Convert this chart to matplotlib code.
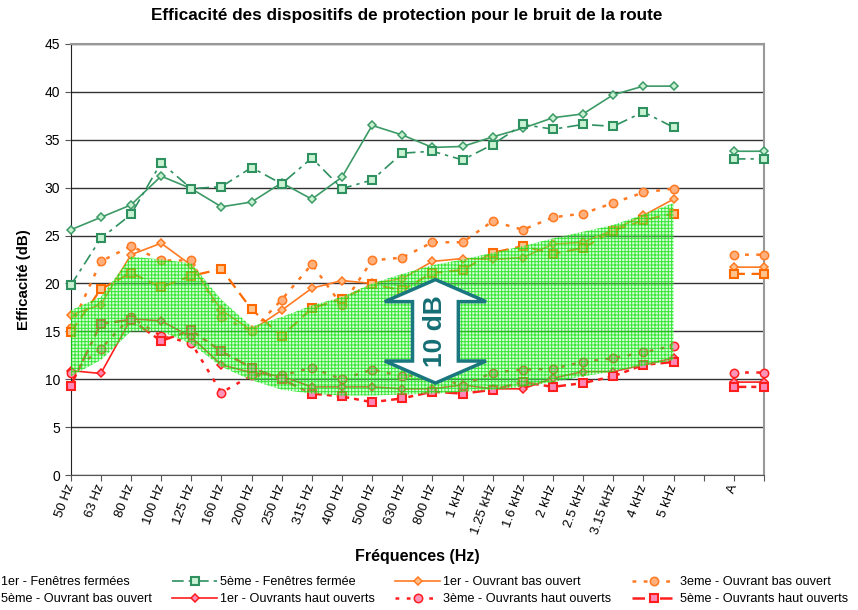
import matplotlib.pyplot as plt
from matplotlib.patches import Polygon
import numpy as np

plt.rcParams['font.family'] = ['Liberation Sans', 'DejaVu Sans']
plt.rcParams['hatch.linewidth'] = 0.7

# categories (index 21 empty, 22 = A, 23 = repeat of A)
cats = ["50 Hz", "63 Hz", "80 Hz", "100 Hz", "125 Hz", "160 Hz", "200 Hz", "250 Hz",
        "315 Hz", "400 Hz", "500 Hz", "630 Hz", "800 Hz", "1 kHz", "1.25 kHz", "1.6 kHz",
        "2 kHz", "2.5 kHz", "3.15 kHz", "4 kHz", "5 kHz", "", "A", ""]

N = None
ff1 = [25.6, 26.9, 28.2, 31.2, 29.9, 28.0, 28.5, 30.5, 28.8, 31.1, 36.5, 35.5, 34.2, 34.3,
       35.3, 36.2, 37.3, 37.7, 39.7, 40.6, 40.6, N, 33.8, 33.8]
ff5 = [19.8, 24.7, 27.2, 32.6, 29.9, 30.1, 32.1, 30.4, 33.1, 29.9, 30.8, 33.6, 33.8, 32.9,
       34.5, 36.6, 36.1, 36.6, 36.4, 37.9, 36.3, N, 33.0, 33.0]
ob1 = [16.7, 17.8, 23.0, 24.2, 21.9, 17.2, 15.1, 17.2, 19.5, 20.3, 20.0, 20.5, 22.3, 22.6,
       22.5, 22.7, 24.1, 24.3, 25.6, 27.1, 28.8, N, 21.7, 21.7]
ob3 = [15.4, 22.3, 23.9, 22.4, 22.4, 16.5, 15.0, 18.3, 22.0, 17.7, 22.4, 22.7, 24.3, 24.3,
       26.5, 25.6, 26.9, 27.3, 28.4, 29.5, 29.9, N, 23.0, 23.0]
ob5 = [14.9, 19.4, 21.1, 19.6, 20.8, 21.5, 17.3, 14.5, 17.4, 18.4, 19.9, 19.3, 21.1, 21.4,
       23.2, 23.9, 23.1, 23.7, 25.5, 26.6, 27.3, N, 21.0, 21.0]
oh1 = [10.9, 10.6, 16.3, 16.1, 14.4, 11.5, 10.7, 10.3, 9.2, 9.2, 9.2, 9.0, 9.0, 9.4,
       9.0, 9.0, 10.1, 10.8, 10.8, 11.5, 12.2, N, 9.7, 9.7]
oh3 = [10.6, 13.2, 16.5, 14.5, 13.8, 8.6, 10.4, 10.4, 11.2, 10.0, 11.0, 10.3, 10.5, 9.3,
       10.7, 11.0, 11.1, 11.8, 12.2, 12.8, 13.5, N, 10.7, 10.7]
oh5 = [9.3, 15.8, 16.2, 14.0, 15.1, 12.9, 11.2, 10.0, 8.5, 8.2, 7.6, 8.0, 8.7, 8.5,
       8.9, 9.7, 9.2, 9.6, 10.3, 11.5, 11.8, N, 9.2, 9.2]

# green zone (50 Hz .. 5 kHz)
zone_low = [10.3, 12.0, 15.0, 15.0, 13.7, 11.3, 9.9, 8.9, 8.5, 8.3, 8.3, 8.4, 8.5, 8.7,
            8.9, 9.2, 9.7, 10.3, 10.8, 11.4, 12.0]
zone_high = [17.2, 18.6, 22.8, 22.5, 22.1, 18.3, 15.5, 16.5, 17.7, 18.6, 20.0, 21.0, 21.9, 22.5,
             23.2, 23.9, 24.7, 25.4, 26.1, 27.2, 28.4]

labels = ["1er - Fenêtres fermées", "5ème - Fenêtres fermée", "1er - Ouvrant bas ouvert",
          "3eme - Ouvrant bas ouvert", "5ème - Ouvrant bas ouvert", "1er - Ouvrants haut ouverts",
          "3ème - Ouvrants haut ouverts", "5ème - Ouvrants haut ouverts"]

green = '#3c9a66'
orange = '#ff7a22'
red = '#ff1e1e'

styles = [
    dict(color=green, ls='-', lw=1.2, marker='D', ms=4.5, mfc='#c8f2d2', mec=green, mew=1.1),
    dict(color='#2f9060', ls=(0, (7, 3, 2, 3)), lw=1.2, marker='s', ms=6, mfc='#c8f2d2', mec='#2f9060', mew=1.5),
    dict(color=orange, ls='-', lw=1.2, marker='D', ms=4.5, mfc='#ffc08c', mec=orange, mew=1.1),
    dict(color=orange, ls=(0, (1.5, 3)), lw=1.8, marker='o', ms=6, mfc='#ffb07c', mec=orange, mew=1.1),
    dict(color='#ff6a00', ls=(0, (5, 3)), lw=1.6, marker='s', ms=6, mfc='#ffc48e', mec='#ff6a00', mew=1.5),
    dict(color=red, ls='-', lw=1.2, marker='D', ms=4.5, mfc='#ff8ab4', mec=red, mew=1.1),
    dict(color=red, ls=(0, (1.5, 3)), lw=1.8, marker='o', ms=6, mfc='#ff96ba', mec=red, mew=1.1),
    dict(color=red, ls=(0, (5, 2, 2, 2)), lw=1.8, marker='s', ms=6, mfc='#ff88b8', mec=red, mew=1.5),
]
series = [ff1, ff5, ob1, ob3, ob5, oh1, oh3, oh5]

fig = plt.figure(figsize=(8.58, 6.10), dpi=100)
ax = fig.add_axes([0.0824, 0.2213, 0.8080, 0.7066])

x = np.arange(len(cats))
handles = []
for vals, st, lab in zip(series, styles, labels):
    y = np.array([np.nan if v is None else v for v in vals])
    h, = ax.plot(x, y, label=lab, clip_on=False, zorder=3, **st)
    handles.append(h)

# hatched green zone, drawn over the curves
xz = x[:len(zone_low)]
ax.fill_between(xz, zone_low, zone_high, facecolor=(0.6, 0.97, 0.6, 0.4),
                edgecolor=(0.0, 0.88, 0.0, 0.75), hatch='+++++', linewidth=0, zorder=4)

# "10 dB" double arrow
cx, y0, y1 = 12.1, 9.6, 20.4
hw, sw, hl = 1.68, 0.76, 2.3
pts = [(cx, y1), (cx + hw, y1 - hl), (cx + sw, y1 - hl), (cx + sw, y0 + hl), (cx + hw, y0 + hl),
       (cx, y0), (cx - hw, y0 + hl), (cx - sw, y0 + hl), (cx - sw, y1 - hl), (cx - hw, y1 - hl)]
ax.add_patch(Polygon(pts, closed=True, facecolor='white', edgecolor='#1a7780', lw=2.5, zorder=5))
ax.text(cx, (y0 + y1) / 2, "10 dB", rotation=90, ha='center', va='center', fontsize=19,
        fontweight='bold', color='#146e74', zorder=6)

ax.set_xlim(0, 23)
ax.set_ylim(0, 45)
ax.set_yticks(range(0, 46, 5))
ax.set_xticks(x)
ax.set_xticklabels(cats, rotation=70, ha='right', va='center', rotation_mode='anchor', fontsize=9.5)
ax.tick_params(axis='x', length=4, pad=3, color='#555555')
ax.tick_params(axis='y', length=4, labelsize=10, color='#555555')
ax.yaxis.grid(True, color='#333333', lw=1.0)
ax.set_axisbelow(True)
for s in ['top', 'right']:
    ax.spines[s].set_color('#999999')
    ax.spines[s].set_linewidth(1.5)
ax.spines['left'].set_color('#222222')
ax.spines['bottom'].set_color('#555555')

fig.text(0.474, 0.975, "Efficacité des dispositifs de protection pour le bruit de la route",
         ha='center', va='center', fontsize=12.3, fontweight='bold')
fig.text(0.028, 0.541, "Efficacité (dB)", rotation=90, ha='center', va='center',
         fontsize=10.8, fontweight='bold')
fig.text(0.486, 0.087, "Fréquences (Hz)", ha='center', va='center', fontsize=11.5, fontweight='bold')

order = [0, 4, 1, 5, 2, 6, 3, 7]
fig.legend([handles[i] for i in order], [labels[i] for i in order], ncol=4, loc='upper left',
           bbox_to_anchor=(-0.068, 0.074), frameon=False, fontsize=9.1, handlelength=3.55,
           handletextpad=0.25, columnspacing=1.6, labelspacing=0.4)

fig.savefig('out.png', dpi=100)
